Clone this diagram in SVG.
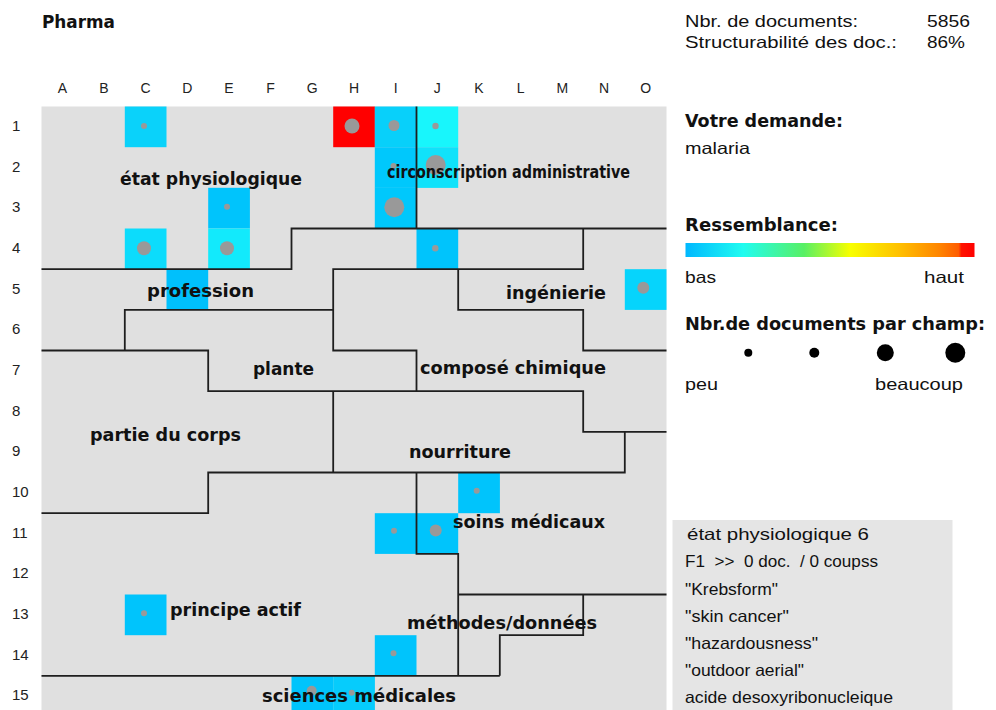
<svg xmlns="http://www.w3.org/2000/svg" width="996" height="710" viewBox="0 0 996 710">
<defs>
<linearGradient id="ramp" x1="0" y1="0" x2="1" y2="0">
<stop offset="0" stop-color="#00b8ff"/>
<stop offset="0.2" stop-color="#20fcf0"/>
<stop offset="0.41" stop-color="#58f064"/>
<stop offset="0.57" stop-color="#f8ff00"/>
<stop offset="0.74" stop-color="#ffc000"/>
<stop offset="0.88" stop-color="#ff8400"/>
<stop offset="0.945" stop-color="#ff5c00"/>
<stop offset="0.955" stop-color="#ff1400"/>
<stop offset="1" stop-color="#ff0000"/>
</linearGradient>
</defs>
<style>
.lbl{font-family:"DejaVu Sans",Verdana,sans-serif;font-weight:bold;font-size:17px;fill:#111}
.hd{font-family:"DejaVu Sans",Verdana,sans-serif;font-weight:bold;font-size:17px;fill:#111}
.tx{font-family:"Liberation Sans",Arial,sans-serif;font-size:16.5px;fill:#111}
.ax{font-family:"Liberation Sans",Arial,sans-serif;font-size:14px;fill:#222;text-anchor:middle}
.rn{font-family:"Liberation Sans",Arial,sans-serif;font-size:15px;fill:#222}
.bd{fill:none;stroke:#1e1e1e;stroke-width:1.8}
.dot{fill:#999}
.ldot{fill:#000}
</style>
<rect width="996" height="710" fill="#fff"/>

<text class="hd" x="42" y="28" textLength="73" lengthAdjust="spacingAndGlyphs">Pharma</text>

<g id="axis-cols">
<text class="ax" x="62.3" y="93">A</text>
<text class="ax" x="104" y="93">B</text>
<text class="ax" x="145.6" y="93">C</text>
<text class="ax" x="187.3" y="93">D</text>
<text class="ax" x="229" y="93">E</text>
<text class="ax" x="270.6" y="93">F</text>
<text class="ax" x="312.3" y="93">G</text>
<text class="ax" x="354" y="93">H</text>
<text class="ax" x="395.6" y="93">I</text>
<text class="ax" x="437.3" y="93">J</text>
<text class="ax" x="479" y="93">K</text>
<text class="ax" x="520.6" y="93">L</text>
<text class="ax" x="562.3" y="93">M</text>
<text class="ax" x="604" y="93">N</text>
<text class="ax" x="645.6" y="93">O</text>
</g>
<g id="axis-rows">
<text class="rn" x="12" y="131">1</text>
<text class="rn" x="12" y="171.7">2</text>
<text class="rn" x="12" y="212.3">3</text>
<text class="rn" x="12" y="253">4</text>
<text class="rn" x="12" y="293.7">5</text>
<text class="rn" x="12" y="334.3">6</text>
<text class="rn" x="12" y="375">7</text>
<text class="rn" x="12" y="415.7">8</text>
<text class="rn" x="12" y="456.3">9</text>
<text class="rn" x="12" y="497">10</text>
<text class="rn" x="12" y="537.7">11</text>
<text class="rn" x="12" y="578.3">12</text>
<text class="rn" x="12" y="619">13</text>
<text class="rn" x="12" y="659.7">14</text>
<text class="rn" x="12" y="700.3">15</text>
</g>

<rect id="map-bg" x="41.5" y="106.5" width="625" height="610" fill="#e0e0e0"/>

<g id="cells">
<rect x="124.8" y="106.5" width="41.7" height="40.7" fill="#0ad2fa"/>
<rect x="333.2" y="106.5" width="41.7" height="40.7" fill="#ff0000"/>
<rect x="374.8" y="106.5" width="41.7" height="40.7" fill="#08d0fa"/>
<rect x="416.5" y="106.5" width="41.7" height="40.7" fill="#18f6fc"/>
<rect x="374.8" y="147.2" width="41.7" height="40.7" fill="#00c8fc"/>
<rect x="416.5" y="147.2" width="41.7" height="40.7" fill="#10e2fa"/>
<rect x="374.8" y="187.8" width="41.7" height="40.7" fill="#00c8fc"/>
<rect x="208.2" y="187.8" width="41.7" height="40.7" fill="#00c4fc"/>
<rect x="124.8" y="228.5" width="41.7" height="40.7" fill="#0cdcfc"/>
<rect x="208.2" y="228.5" width="41.7" height="40.7" fill="#12eafc"/>
<rect x="416.5" y="228.5" width="41.7" height="40.7" fill="#00c4fc"/>
<rect x="166.5" y="269.2" width="41.7" height="40.7" fill="#00c0fc"/>
<rect x="624.8" y="269.2" width="41.7" height="40.7" fill="#06d4fc"/>
<rect x="458.2" y="472.5" width="41.7" height="40.7" fill="#00c4fc"/>
<rect x="374.8" y="513.2" width="41.7" height="40.7" fill="#00c4fc"/>
<rect x="416.5" y="513.2" width="41.7" height="40.7" fill="#00c4fc"/>
<rect x="124.8" y="594.5" width="41.7" height="40.7" fill="#00c4fc"/>
<rect x="374.8" y="635.2" width="41.7" height="40.7" fill="#00c4fc"/>
<rect x="291.5" y="675.8" width="41.7" height="40.7" fill="#00c4fc"/>
<rect x="333.2" y="675.8" width="41.7" height="40.7" fill="#06ccfc"/>
</g>

<g id="dots">
<circle class="dot" cx="144" cy="126" r="3"/>
<circle class="dot" cx="352" cy="126" r="7.5"/>
<circle class="dot" cx="394" cy="125.5" r="5.5"/>
<circle class="dot" cx="435.5" cy="126" r="3.2"/>
<circle class="dot" cx="393.5" cy="166" r="3"/>
<circle class="dot" cx="435.7" cy="165" r="10"/>
<circle class="dot" cx="394.3" cy="207.3" r="10"/>
<circle class="dot" cx="227" cy="206.7" r="3"/>
<circle class="dot" cx="144" cy="248.3" r="7"/>
<circle class="dot" cx="227" cy="248.3" r="7"/>
<circle class="dot" cx="435.3" cy="248.3" r="3.2"/>
<circle class="dot" cx="643.3" cy="287.7" r="6"/>
<circle class="dot" cx="476.7" cy="490.7" r="3"/>
<circle class="dot" cx="394" cy="530.7" r="3"/>
<circle class="dot" cx="435.7" cy="530.5" r="6"/>
<circle class="dot" cx="144" cy="613.3" r="3"/>
<circle class="dot" cx="393.5" cy="653.3" r="3"/>
<circle class="dot" cx="311.7" cy="690.7" r="5"/>
<circle class="dot" cx="351.7" cy="692.7" r="3"/>
</g>

<g id="connectors">
<path class="bd" d="M416.5,106.5 V228.5"/>
<path class="bd" d="M41.5,269.2 H291.5 V228.5 H666.5"/>
<path class="bd" d="M583.2,228.5 V269.2 H333.2 V350.5 H416.5 V391.2"/>
<path class="bd" d="M41.5,350.5 H208.2 V391.2 H583.2 V431.8 H666.5"/>
<path class="bd" d="M124.8,350.5 V309.8 H333.2"/>
<path class="bd" d="M458.2,269.2 V309.8 H583.2 V350.5 H666.5"/>
<path class="bd" d="M333.2,391.2 V472.5"/>
<path class="bd" d="M41.5,513.2 H208.2 V472.5 H624.8 V431.8"/>
<path class="bd" d="M416.5,472.5 V553.8 H458.2 V675.8"/>
<path class="bd" d="M458.2,594.5 H666.5"/>
<path class="bd" d="M583.2,594.5 V635.2 H499.8 V675.8"/>
<path class="bd" d="M41.5,675.8 H499.8"/>
</g>

<g id="etat-physiologique"><text class="lbl" x="120" y="185" textLength="182" lengthAdjust="spacingAndGlyphs">état physiologique</text></g>
<g id="circonscription-administrative"><text class="lbl" x="387" y="178" textLength="243" lengthAdjust="spacingAndGlyphs">circonscription administrative</text></g>
<g id="profession"><text class="lbl" x="147" y="297" textLength="107" lengthAdjust="spacingAndGlyphs">profession</text></g>
<g id="ingenierie"><text class="lbl" x="506" y="299" textLength="100" lengthAdjust="spacingAndGlyphs">ingénierie</text></g>
<g id="plante"><text class="lbl" x="253" y="375" textLength="61" lengthAdjust="spacingAndGlyphs">plante</text></g>
<g id="compose-chimique"><text class="lbl" x="420" y="374" textLength="186" lengthAdjust="spacingAndGlyphs">composé chimique</text></g>
<g id="partie-du-corps"><text class="lbl" x="90" y="441" textLength="151" lengthAdjust="spacingAndGlyphs">partie du corps</text></g>
<g id="nourriture"><text class="lbl" x="409" y="458" textLength="102" lengthAdjust="spacingAndGlyphs">nourriture</text></g>
<g id="soins-medicaux"><text class="lbl" x="453" y="528" textLength="152" lengthAdjust="spacingAndGlyphs">soins médicaux</text></g>
<g id="principe-actif"><text class="lbl" x="170" y="616" textLength="131" lengthAdjust="spacingAndGlyphs">principe actif</text></g>
<g id="methodes-donnees"><text class="lbl" x="407" y="629" textLength="190" lengthAdjust="spacingAndGlyphs">méthodes/données</text></g>
<g id="sciences-medicales"><text class="lbl" x="262" y="702" textLength="194" lengthAdjust="spacingAndGlyphs">sciences médicales</text></g>

<g id="stats">
<text class="tx" x="685" y="27" textLength="173" lengthAdjust="spacingAndGlyphs">Nbr. de documents:</text>
<text class="tx" x="927" y="27" textLength="43" lengthAdjust="spacingAndGlyphs">5856</text>
<text class="tx" x="685" y="48" textLength="212" lengthAdjust="spacingAndGlyphs">Structurabilité des doc.:</text>
<text class="tx" x="927" y="48" textLength="38" lengthAdjust="spacingAndGlyphs">86%</text>
</g>

<g id="query">
<text class="hd" x="685" y="127" textLength="158" lengthAdjust="spacingAndGlyphs">Votre demande:</text>
<text class="tx" x="685" y="154" textLength="65" lengthAdjust="spacingAndGlyphs">malaria</text>
</g>

<g id="legend-similarity">
<text class="hd" x="685" y="231" textLength="153" lengthAdjust="spacingAndGlyphs">Ressemblance:</text>
<rect x="685.5" y="243" width="289" height="14" fill="url(#ramp)"/>
<text class="tx" x="685" y="283" textLength="31" lengthAdjust="spacingAndGlyphs">bas</text>
<text class="tx" x="924" y="283" textLength="40" lengthAdjust="spacingAndGlyphs">haut</text>
</g>

<g id="legend-count">
<text class="hd" x="685" y="330" textLength="300" lengthAdjust="spacingAndGlyphs">Nbr.de documents par champ:</text>
<circle class="ldot" cx="748.3" cy="352.7" r="4"/>
<circle class="ldot" cx="814.3" cy="352.7" r="5"/>
<circle class="ldot" cx="885.3" cy="352.7" r="8.5"/>
<circle class="ldot" cx="955.3" cy="352.7" r="10"/>
<text class="tx" x="685" y="390" textLength="33" lengthAdjust="spacingAndGlyphs">peu</text>
<text class="tx" x="875" y="390" textLength="88" lengthAdjust="spacingAndGlyphs">beaucoup</text>
</g>

<g id="info-box">
<rect x="672.5" y="520" width="280" height="190" fill="#e5e5e5"/>
<text class="tx" x="687" y="540" textLength="182" lengthAdjust="spacingAndGlyphs">état physiologique 6</text>
<text class="tx" x="685" y="567" textLength="193" lengthAdjust="spacingAndGlyphs" xml:space="preserve">F1  &gt;&gt;  0 doc.  / 0 coupss</text>
<text class="tx" x="685" y="595" textLength="93" lengthAdjust="spacingAndGlyphs">"Krebsform"</text>
<text class="tx" x="685" y="622" textLength="104" lengthAdjust="spacingAndGlyphs">"skin cancer"</text>
<text class="tx" x="685" y="649" textLength="133" lengthAdjust="spacingAndGlyphs">"hazardousness"</text>
<text class="tx" x="685" y="676" textLength="119" lengthAdjust="spacingAndGlyphs">"outdoor aerial"</text>
<text class="tx" x="685" y="703" textLength="208" lengthAdjust="spacingAndGlyphs">acide desoxyribonucleique</text>
</g>
</svg>
